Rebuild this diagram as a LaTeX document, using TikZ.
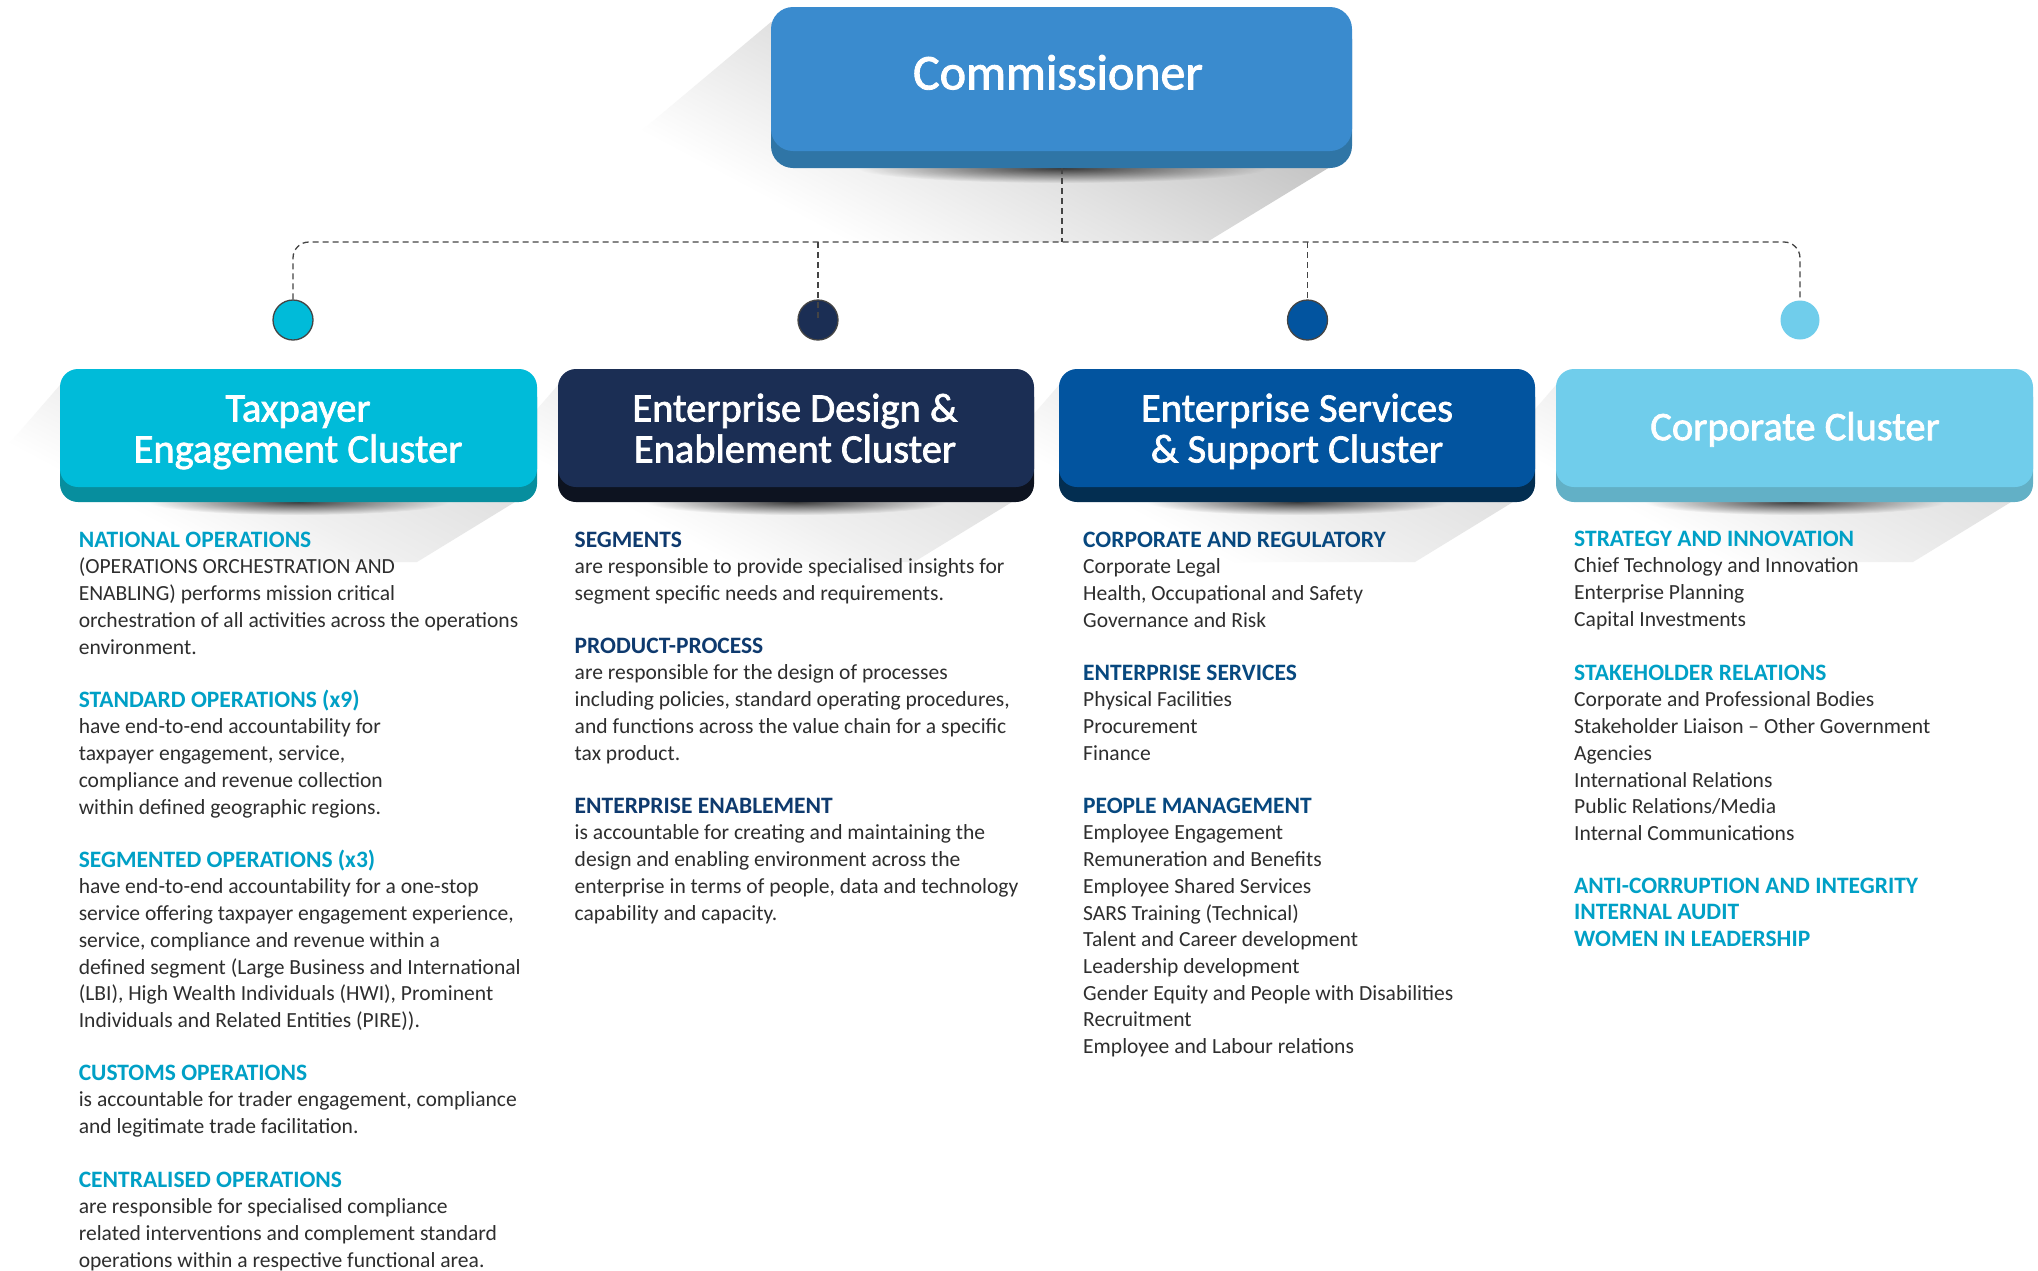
\documentclass[tikz,border=0pt]{standalone}
\usepackage{fontspec}
\setmainfont{Carlito}
\newfontfamily\titlef[FakeBold=1.8]{Carlito}
\definecolor{bodytext}{HTML}{2E2E2E}
\definecolor{dashc}{HTML}{444444}
\definecolor{cA}{HTML}{3A8BCE}\definecolor{cAd}{HTML}{2F75A6}
\definecolor{cB}{HTML}{00BBD9}\definecolor{cBd}{HTML}{078E9E}
\definecolor{cC}{HTML}{1B2E54}\definecolor{cCd}{HTML}{0D1320}
\definecolor{cD}{HTML}{02549F}\definecolor{cDd}{HTML}{032E51}
\definecolor{cE}{HTML}{70CDEB}\definecolor{cEd}{HTML}{62B0C6}
\definecolor{hcyan}{HTML}{00A0C6}
\definecolor{hnavy}{HTML}{0E3A6E}
\definecolor{hblue}{HTML}{07487F}
\pgfdeclareverticalshading{commshade}{100bp}{rgb(0bp)=(1,1,1); rgb(39.6bp)=(1,1,1); rgb(48.75bp)=(0.89,0.89,0.89); rgb(57.9bp)=(0.77,0.77,0.77); rgb(100bp)=(0.77,0.77,0.77)}
\pgfdeclareverticalshading{clustshade}{100bp}{rgb(0bp)=(1,1,1); rgb(42bp)=(1,1,1); rgb(48.4bp)=(0.94,0.94,0.94); rgb(57.6bp)=(0.88,0.88,0.88); rgb(100bp)=(0.88,0.88,0.88)}
\newcommand{\hdg}[2]{{\rule{0pt}{18pt}\bfseries\fontsize{23.5}{26.7}\selectfont\color{#1}#2}}
\tikzset{
 x=1pt,y=-1pt,
 sec/.style={anchor=north west,inner sep=0pt,align=left,text=bodytext,yshift=-2.5pt,font=\fontsize{21.55}{26.7}\selectfont},
 title/.style={inner sep=0pt,align=center,text=white,font=\titlef\fontsize{40.5}{39.5}\selectfont},
 dot/.style={circle,inner sep=0pt,minimum size=40pt,draw=dashc,line width=1.3pt},
 dashline/.style={draw=dashc,line width=1.3pt,dash pattern=on 6pt off 4pt},
}
% #1 x0, #2 x1 , #3 top, #4 facebottom, #5 bottom, #6 face, #7 dark, #8 radius
\newcommand{\cbox}[8]{%
 \fill[#7,rounded corners=#8] (#1,#3+10) rectangle (#2,#5);
 \fill[#6,rounded corners=#8] (#1,#3) rectangle (#2,#4);
}
% cluster shadow: #1 x0  #2 x1
\newcommand{\cshadow}[2]{%
 \begin{scope}
 \clip (#1,385) -- (#1-52,445) -- (#1+170,562) -- (#2-120,562) -- (#2-22,502) -- cycle;
 \shade[shading=clustshade,shading angle=-28,blend mode=multiply] (#1-100,170) rectangle (#1+500,770);
 \end{scope}
 \shade[blend mode=multiply,inner color=black!75,outer color=white] ({(#1+#2)/2},502) ellipse [x radius=150,y radius=13];
}
\begin{document}
\begin{tikzpicture}
\useasboundingbox (0,0) rectangle (2038,1270);
\fill[white] (0,0) rectangle (2038,1270);
% long shadows
\begin{scope}
\clip (8,300) rectangle (2038,1270);
\cshadow{60}{537}
\cshadow{558}{1034}
\cshadow{1059}{1535}
\cshadow{1556}{2033}
\end{scope}
\begin{scope}
\clip (771,22) -- (640,132) -- (850,242) -- (1207,242) -- (1330,167) -- cycle;
\shade[shading=commshade,shading angle=-28,blend mode=multiply] (590,-270) rectangle (1390,530);
\end{scope}
\shade[blend mode=multiply,inner color=black!75,outer color=white] (1062,168) ellipse [x radius=205,y radius=15];
% boxes
\cbox{771}{1352}{7}{151}{168}{cA}{cAd}{22pt}
\cbox{60}{537}{369}{487}{502}{cB}{cBd}{18pt}
\cbox{558}{1034}{369}{487}{502}{cC}{cCd}{18pt}
\cbox{1059}{1535}{369}{487}{502}{cD}{cDd}{18pt}
\cbox{1556}{2033}{369}{487}{502}{cE}{cEd}{18pt}
% titles
\node[title,font=\titlef\fontsize{50}{52}\selectfont] (comm) at (1058,79) {\strut Commissioner\strut};
\node[title] (t1) at (298,434) {\strut Taxpayer\\Engagement Cluster\strut};
\node[title] (t2) at (795,434) {\strut Enterprise Design \&\\Enablement Cluster\strut};
\node[title] (t3) at (1297,434) {\strut Enterprise Services\\\& Support Cluster\strut};
\node[title] (t4) at (1795,432) {\strut Corporate Cluster\strut};
% anchors and circles
\coordinate (src) at (1062,168);
\coordinate (bus) at (1062,242);
\node[dot,fill=cB] (d1) at (293,320) {};
\node[dot,fill=cC] (d2) at (818,320) {};
\node[dot,fill=cD] (d3) at (1307.5,320) {};
\node[dot,fill=cE,draw=none,minimum size=39pt] (d4) at (1800,320) {};
% connectors
\draw[dashline] (src) -- (bus);
\draw[dashline,rounded corners=16pt] (d1.north) -- (d1.north |- bus) -- (d4.north |- bus) -- (d4.north);
\draw[dashline] (d2.north |- bus) -- (d2.center);
\draw[dashline] (d3.north |- bus) -- (d3.north);
% column 1
\node[sec] (a1) at (78.6,526.5) {\hdg{hcyan}{NATIONAL OPERATIONS}\\(OPERATIONS ORCHESTRATION AND\\ENABLING) performs mission critical\\orchestration of all activities across the operations\\environment.};
\node[sec] (a2) at (78.6,686.5) {\hdg{hcyan}{STANDARD OPERATIONS (x9)}\\have end-to-end accountability for\\taxpayer engagement, service,\\compliance and revenue collection\\within defined geographic regions.};
\node[sec] (a3) at (78.6,846.5) {\hdg{hcyan}{SEGMENTED OPERATIONS (x3)}\\have end-to-end accountability for a one-stop\\service offering taxpayer engagement experience,\\service, compliance and revenue within a\\defined segment (Large Business and International\\(LBI), High Wealth Individuals (HWI), Prominent\\Individuals and Related Entities (PIRE)).};
\node[sec] (a4) at (78.6,1059.5) {\hdg{hcyan}{CUSTOMS OPERATIONS}\\is accountable for trader engagement, compliance\\and legitimate trade facilitation.};
\node[sec] (a5) at (78.6,1166.5) {\hdg{hcyan}{CENTRALISED OPERATIONS}\\are responsible for specialised compliance\\related interventions and complement standard\\operations within a respective functional area.};
% column 2
\node[sec] (b1) at (574.5,526.5) {\hdg{hnavy}{SEGMENTS}\\are responsible to provide specialised insights for\\segment specific needs and requirements.};
\node[sec] (b2) at (574.5,632.5) {\hdg{hnavy}{PRODUCT-PROCESS}\\are responsible for the design of processes\\including policies, standard operating procedures,\\and functions across the value chain for a specific\\tax product.};
\node[sec] (b3) at (574.5,792.5) {\hdg{hnavy}{ENTERPRISE ENABLEMENT}\\is accountable for creating and maintaining the\\design and enabling environment across the\\enterprise in terms of people, data and technology\\capability and capacity.};
% column 3
\node[sec] (c1) at (1083,526.5) {\hdg{hblue}{CORPORATE AND REGULATORY}\\Corporate Legal\\Health, Occupational and Safety\\Governance and Risk};
\node[sec] (c2) at (1083,659.5) {\hdg{hblue}{ENTERPRISE SERVICES}\\Physical Facilities\\Procurement\\Finance};
\node[sec] (c3) at (1083,792.5) {\hdg{hblue}{PEOPLE MANAGEMENT}\\Employee Engagement\\Remuneration and Benefits\\Employee Shared Services\\SARS Training (Technical)\\Talent and Career development\\Leadership development\\Gender Equity and People with Disabilities\\Recruitment\\Employee and Labour relations};
% column 4
\node[sec] (e1) at (1574,525.5) {\hdg{hcyan}{STRATEGY AND INNOVATION}\\Chief Technology and Innovation\\Enterprise Planning\\Capital Investments};
\node[sec] (e2) at (1574,659.5) {\hdg{hcyan}{STAKEHOLDER RELATIONS}\\Corporate and Professional Bodies\\Stakeholder Liaison -- Other Government\\Agencies\\International Relations\\Public Relations/Media\\Internal Communications};
\node[sec] (e3) at (1574,872.5) {\hdg{hcyan}{ANTI-CORRUPTION AND INTEGRITY}\\\hdg{hcyan}{INTERNAL AUDIT}\\\hdg{hcyan}{WOMEN IN LEADERSHIP}};
\end{tikzpicture}
\end{document}
